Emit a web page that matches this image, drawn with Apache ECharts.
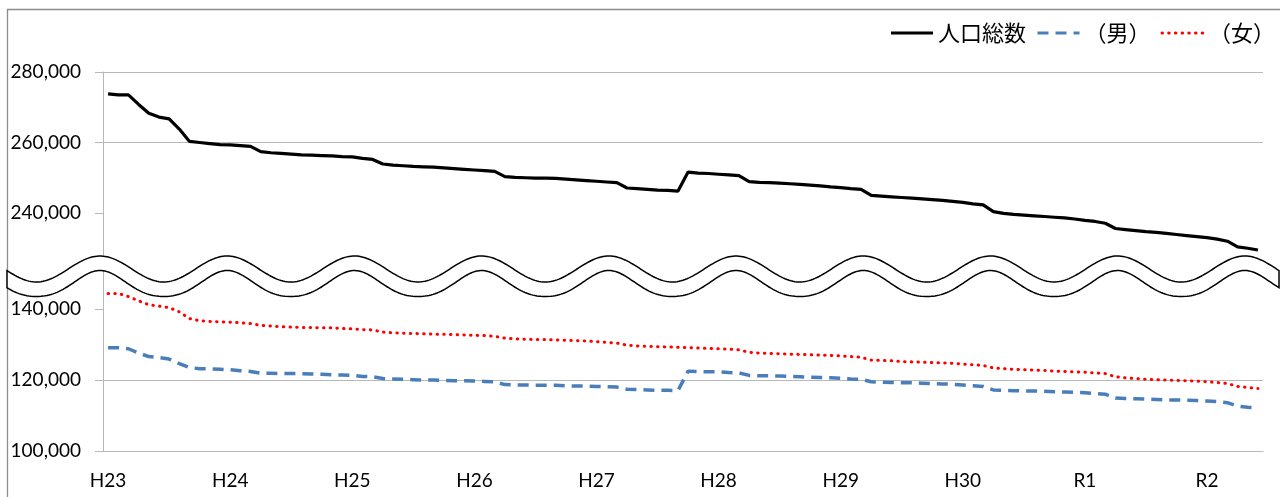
<!DOCTYPE html>
<html>
<head>
<meta charset="utf-8">
<script src="https://cdn.jsdelivr.net/npm/echarts@6/dist/echarts.min.js"></script>
<style>
html, body { margin: 0; padding: 0; background: #fff; }
#main { width: 1280px; height: 497px; }
</style>
</head>
<body>
<div id="main"></div>
<script>
// 年度ラベル（各年12か月）
var yearLabels = ['H23', 'H24', 'H25', 'H26', 'H27', 'H28', 'H29', 'H30', 'R1', 'R2'];
var monthCount = 114;

// 人口総数
var totalPop = [
	273800, 273500, 273500, 270800, 268300, 267200, 266700, 263800, 260300, 260000, 259700, 259400,
	259300, 259100, 258900, 257400, 257100, 256900, 256700, 256500, 256400, 256300, 256200, 256000,
	255900, 255500, 255200, 253900, 253600, 253400, 253200, 253100, 253000, 252800, 252600, 252400,
	252200, 252000, 251800, 250300, 250100, 250000, 249900, 249900, 249800, 249600, 249400, 249200,
	249000, 248800, 248600, 247100, 246900, 246700, 246500, 246400, 246200, 251600, 251300, 251200,
	251000, 250800, 250600, 248900, 248700, 248600, 248500, 248300, 248100, 247900, 247700, 247400,
	247200, 246900, 246700, 245000, 244800, 244600, 244400, 244200, 244000, 243800, 243600, 243300,
	243000, 242600, 242300, 240400, 239900, 239600, 239400, 239200, 239000, 238800, 238600, 238300,
	237900, 237600, 237100, 235600, 235300, 235000, 234700, 234500, 234200, 233900, 233600, 233300,
	233000, 232600, 232000, 230400, 230000, 229500
];

// 男
var malePop = [
	129100, 129100, 128800, 127600, 126600, 126300, 125900, 124600, 123500, 123200, 123100, 123000,
	122900, 122600, 122400, 121900, 121900, 121800, 121800, 121800, 121700, 121600, 121500, 121400,
	121300, 121000, 120900, 120400, 120300, 120200, 120100, 120000, 120000, 119900, 119800, 119800,
	119700, 119600, 119500, 118700, 118600, 118600, 118500, 118500, 118500, 118400, 118300, 118300,
	118200, 118100, 118000, 117400, 117300, 117200, 117100, 117100, 117000, 122500, 122400, 122300,
	122300, 122100, 122000, 121300, 121200, 121200, 121100, 121000, 120900, 120800, 120700, 120600,
	120500, 120300, 120200, 119500, 119400, 119300, 119200, 119200, 119100, 119000, 118900, 118800,
	118600, 118400, 118200, 117200, 117100, 117000, 116900, 116900, 116800, 116700, 116600, 116500,
	116400, 116200, 116000, 114900, 114800, 114700, 114600, 114500, 114400, 114400, 114300, 114200,
	114100, 113900, 113600, 112600, 112300, 112100
];

// 女
var femalePop = [
	144400, 144400, 143500, 142300, 141200, 140800, 140400, 139200, 137300, 136700, 136500, 136400,
	136300, 136100, 135900, 135400, 135200, 135000, 134900, 134800, 134800, 134700, 134700, 134500,
	134400, 134200, 134100, 133500, 133300, 133200, 133100, 133000, 132900, 132900, 132800, 132700,
	132600, 132500, 132300, 131800, 131600, 131500, 131400, 131400, 131300, 131200, 131100, 131000,
	130800, 130600, 130400, 129800, 129600, 129500, 129400, 129300, 129200, 129100, 129000, 128900,
	128800, 128700, 128500, 127800, 127600, 127500, 127400, 127300, 127200, 127100, 127000, 126900,
	126800, 126600, 126400, 125600, 125500, 125400, 125200, 125100, 125000, 124900, 124800, 124700,
	124500, 124300, 124100, 123400, 123200, 123000, 122900, 122800, 122700, 122500, 122400, 122300,
	122200, 122000, 121800, 120900, 120600, 120400, 120200, 120100, 120000, 119900, 119800, 119700,
	119500, 119300, 119000, 118200, 117900, 117600
];

var topTicks = [240000, 260000, 280000];
var bottomTicks = [100000, 120000, 140000];

var categories = [];
for (var i = 0; i < monthCount; i++) {
	categories.push(yearLabels[Math.floor(i / 12)] + '.' + (i % 12 + 1));
}

// 省略線（波形）
function wavePoints() {
	var P = 127.2, A = 13, mid = 269, gap = 14.5;
	var top = [], bottom = [];
	for (var x = 7; x <= 1280; x += 2) {
		var th = 2 * Math.PI * (x - 100) / P;
		var yT = mid - A * Math.cos(th);
		var s = A * 2 * Math.PI / P * Math.sin(th);
		top.push([x, yT]);
		bottom.push([x, yT + gap * Math.sqrt(1 + s * s)]);
	}
	return top.concat(bottom.reverse());
}

var gridColor = '#b8b8b8';
var labelFont = 'Lato';

var chart = echarts.init(document.getElementById('main'));
chart.setOption({
	animation: false,
	backgroundColor: '#ffffff',
	legend: {
		right: 0,
		top: 17,
		itemWidth: 42,
		itemHeight: 14,
		itemGap: 10,
		itemStyle: { opacity: 0 },
		lineStyle: { width: 3 },
		textStyle: { fontFamily: 'Noto Sans CJK JP', fontSize: 22, color: '#000' },
		data: ['人口総数', '（男）', '（女）']
	},
	grid: [
		{ left: 103, right: 17, top: 72, bottom: 213.5 },
		{ left: 103, right: 17, top: 266.4, bottom: 46 }
	],
	xAxis: [
		{ type: 'category', gridIndex: 0, data: categories, boundaryGap: true, show: false },
		{
			type: 'category',
			gridIndex: 1,
			data: categories,
			boundaryGap: true,
			axisLine: { lineStyle: { color: gridColor, width: 1 } },
			axisTick: { interval: 2, length: 7, lineStyle: { color: gridColor } },
			axisLabel: {
				interval: 11,
				margin: 20,
				color: '#000',
				fontSize: 19,
				fontFamily: labelFont,
				formatter: function (v) { return v.split('.')[0]; }
			}
		}
	],
	yAxis: [
		{
			type: 'value',
			gridIndex: 0,
			min: 220000,
			max: 280000,
			interval: 20000,
			axisLine: { show: true, lineStyle: { color: gridColor } },
			axisTick: { show: true, length: 8, customValues: topTicks, lineStyle: { color: gridColor } },
			splitLine: { showMinLine: false, lineStyle: { color: gridColor, width: 1 } },
			axisLabel: {
				customValues: topTicks,
				margin: 22,
				color: '#000',
				fontSize: 19,
				fontFamily: labelFont,
				formatter: function (v) { return v.toLocaleString('en-US'); }
			}
		},
		{
			type: 'value',
			gridIndex: 1,
			min: 100000,
			max: 152000,
			interval: 20000,
			axisLine: { show: true, lineStyle: { color: gridColor } },
			axisTick: { show: true, length: 8, customValues: bottomTicks, lineStyle: { color: gridColor } },
			splitLine: { showMaxLine: false, lineStyle: { color: gridColor, width: 1 } },
			axisLabel: {
				customValues: bottomTicks,
				margin: 22,
				color: '#000',
				fontSize: 19,
				fontFamily: labelFont,
				formatter: function (v) { return v.toLocaleString('en-US'); }
			}
		}
	],
	series: [
		{
			name: '人口総数',
			type: 'line',
			xAxisIndex: 0,
			yAxisIndex: 0,
			data: totalPop,
			symbol: 'none',
			itemStyle: { color: '#000' },
			lineStyle: { color: '#000', width: 3.2 }
		},
		{
			name: '（男）',
			type: 'line',
			xAxisIndex: 1,
			yAxisIndex: 1,
			data: malePop,
			symbol: 'none',
			itemStyle: { color: '#4a7ebb' },
			lineStyle: { color: '#4a7ebb', width: 3.5, type: [11, 7] }
		},
		{
			name: '（女）',
			type: 'line',
			xAxisIndex: 1,
			yAxisIndex: 1,
			data: femalePop,
			symbol: 'none',
			itemStyle: { color: '#ff0000' },
			lineStyle: { color: '#ff0000', width: 3, type: [0.5, 6.2], cap: 'round' }
		}
	],
	graphic: [
		{
			type: 'rect',
			z: 0,
			silent: true,
			shape: { x: 7.5, y: 9.5, width: 1300, height: 600 },
			style: { fill: 'none', stroke: '#8c8c8c', lineWidth: 1.3 }
		},
		{
			type: 'polygon',
			z: 100,
			silent: true,
			shape: { points: wavePoints() },
			style: { fill: '#ffffff', stroke: '#000000', lineWidth: 1.5 }
		}
	]
});
</script>
</body>
</html>
